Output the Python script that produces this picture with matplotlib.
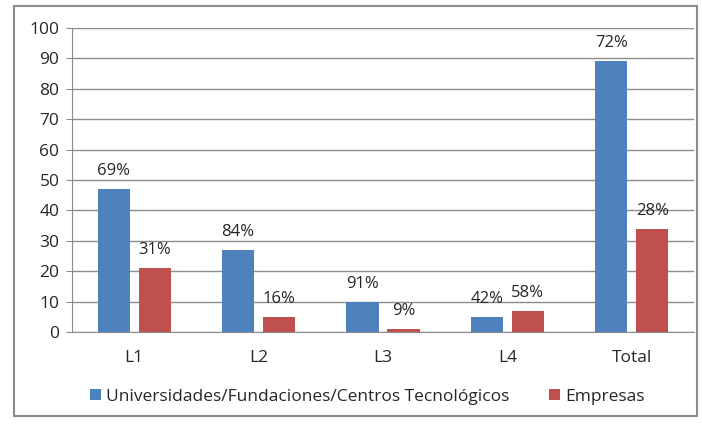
import matplotlib.pyplot as plt
import numpy as np
from matplotlib.patches import Rectangle

categorias = ['L1', 'L2', 'L3', 'L4', 'Total']
universidades = [47, 27, 10, 5, 89]
empresas = [21, 5, 1, 7, 34]
pct_univ = ['69%', '84%', '91%', '42%', '72%']
pct_emp = ['31%', '16%', '9%', '58%', '28%']

plt.rcParams['font.family'] = ['Open Sans', 'DejaVu Sans']

fig = plt.figure(figsize=(7.02, 4.26), dpi=100)
# marco exterior
fig.patches.append(Rectangle((14 / 702, 1 - 416 / 426), (697 - 14) / 702, (416 - 6) / 426,
                             transform=fig.transFigure, fill=False, edgecolor='#8c8c8c', lw=1.5))

ax = fig.add_axes([72 / 702, 1 - 332 / 426, (694 - 72) / 702, (332 - 28) / 426])

x = np.arange(len(categorias))
w = 0.26
b1 = ax.bar(x - 0.165, universidades, w, color='#4F81BD', label='Universidades/Fundaciones/Centros Tecnológicos')
b2 = ax.bar(x + 0.165, empresas, w, color='#C0504D', label='Empresas')

for rect, txt in zip(b1, pct_univ):
    ax.text(rect.get_x() + rect.get_width() / 2, rect.get_height() + 3.3, txt,
            ha='center', va='bottom', fontsize=12, color='#262626')
for rect, txt in zip(b2, pct_emp):
    ax.text(rect.get_x() + rect.get_width() / 2, rect.get_height() + 3.3, txt,
            ha='center', va='bottom', fontsize=12, color='#262626')

ax.set_xlim(-0.5, 4.5)
ax.set_ylim(0, 100)
ax.set_yticks(range(0, 101, 10))
ax.set_xticks(x)
ax.set_xticklabels(categorias)
ax.grid(axis='y', color='#8c8c8c', lw=1)
ax.set_axisbelow(True)
for s in ['top', 'right']:
    ax.spines[s].set_visible(False)
ax.spines['left'].set_color('#8c8c8c')
ax.spines['bottom'].set_color('#8c8c8c')
ax.tick_params(axis='y', length=4, color='#8c8c8c', labelsize=12.5, labelcolor='#262626', pad=5)
ax.tick_params(axis='x', length=0, labelsize=12.5, labelcolor='#262626', pad=13)

ax.legend(loc='upper center', bbox_to_anchor=(0.475, -0.135), ncol=2, frameon=False,
          fontsize=12.5, handlelength=0.6, handleheight=0.6, handletextpad=0.3,
          columnspacing=2.3, labelcolor='#262626')

plt.savefig('out.png', dpi=100)
